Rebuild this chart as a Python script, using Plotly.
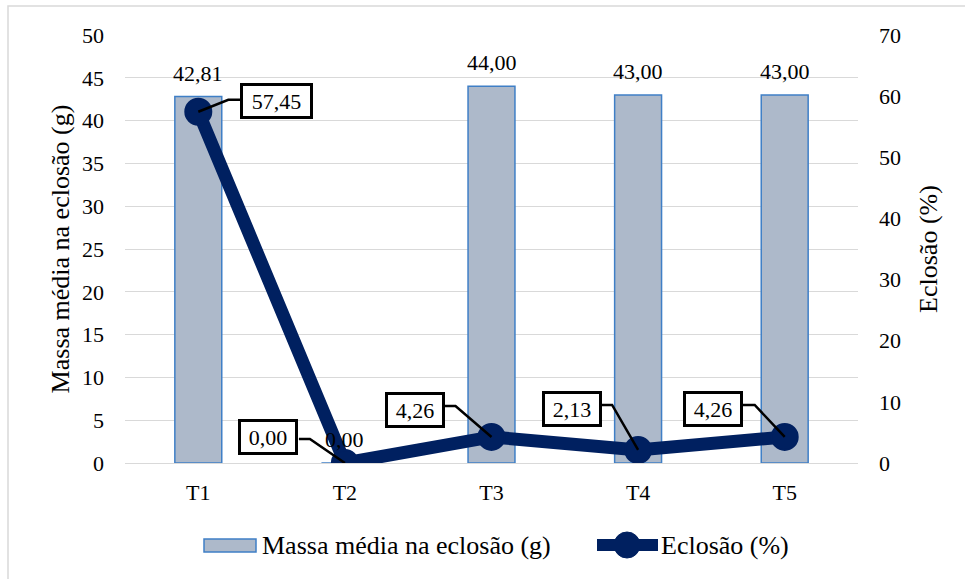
import plotly.graph_objects as go

# Data
categories = ["T1", "T2", "T3", "T4", "T5"]
massa = [42.81, 0.00, 44.00, 43.00, 43.00]          # Massa média na eclosão (g)
eclosao = [57.45, 0.00, 4.26, 2.13, 4.26]           # Eclosão (%)
bar_name = "Massa média na eclosão (g)"
line_name = "Eclosão (%)"

# Callout placement for the line labels, in pixels relative to each point
# (box centre dx, dy) and leader elbow (dx, dy); y positive is up.
callout_box = [(78, 11), (-77, 26), (-77, 27), (-66, 41), (-72, 28)]
callout_elbow = [(30, 12), (-35, 24), (-36, 31), (-26, 45), (-30, 32)]
callout_edge = [(42, 12), (-46, 24), (-48, 31), (-37, 45), (-43, 32)]

FONT = "Times New Roman, Liberation Serif, DejaVu Serif, serif"
BAR_FILL = "#adb9ca"
BAR_EDGE = "#3f7fc6"
LINE_COL = "#002060"
GRID = "#d9d9d9"

W, H = 965, 579
L, R, T, B = 125, 107, 35, 116
PW, PH = W - L - R, H - T - B


def xp(px):
    return (px - L) / PW


def yp(py):
    return (T + PH - py) / PH


def fmt(v):
    return f"{v:.2f}".replace(".", ",")


fig = go.Figure()

fig.add_trace(go.Bar(
    x=categories, y=massa, name=bar_name, yaxis="y",
    width=0.32,
    marker=dict(color=BAR_FILL, line=dict(color=BAR_EDGE, width=1.5)),
    showlegend=False,
))

fig.add_trace(go.Scatter(
    x=categories, y=eclosao, name=line_name, yaxis="y2",
    mode="lines+markers",
    line=dict(color=LINE_COL, width=13),
    marker=dict(size=26, color=LINE_COL, line=dict(color=LINE_COL, width=2)),
    showlegend=False,
))

annotations = []
shapes = []

# Value labels above the bars
for c, v in zip(categories, massa):
    annotations.append(dict(
        x=c, y=v, xref="x", yref="y", text=fmt(v), showarrow=False,
        xanchor="center", yanchor="bottom", yshift=9,
        font=dict(family=FONT, size=22, color="#000000"),
    ))

# Boxed callouts with elbow leaders for the hatch-rate line
for c, v, (bx, by), (ex, ey), (gx, gy) in zip(categories, eclosao, callout_box,
                                               callout_elbow, callout_edge):
    shapes.append(dict(
        type="path", xref="x", yref="y2",
        xsizemode="pixel", ysizemode="pixel", xanchor=c, yanchor=v,
        path=f"M0,0 L{ex},{ey} L{gx},{gy}",
        line=dict(color="#000000", width=2.5), layer="above",
    ))
    txt = fmt(v)
    annotations.append(dict(
        x=c, y=v, xref="x", yref="y2", text=txt, showarrow=False,
        xanchor="center", yanchor="middle", xshift=bx, yshift=by,
        width=13 * len(txt) - 2, height=26, borderpad=2, borderwidth=3,
        bordercolor="#000000", bgcolor="#ffffff",
        font=dict(family=FONT, size=22, color="#000000"),
    ))

# Legend drawn below the plot
shapes.append(dict(type="rect", xref="paper", yref="paper",
                   x0=xp(204), x1=xp(256), y0=yp(552), y1=yp(539),
                   fillcolor=BAR_FILL, line=dict(color=BAR_EDGE, width=1.5)))
shapes.append(dict(type="line", xref="paper", yref="paper",
                   x0=xp(597), x1=xp(658), y0=yp(545), y1=yp(545),
                   line=dict(color=LINE_COL, width=12)))
shapes.append(dict(type="circle", xref="paper", yref="paper",
                   x0=xp(614), x1=xp(640), y0=yp(558), y1=yp(532),
                   fillcolor=LINE_COL, line=dict(color=LINE_COL, width=1)))
annotations.append(dict(x=xp(260), y=yp(545), xref="paper", yref="paper",
                        text=bar_name, showarrow=False, xanchor="left", yanchor="middle",
                        font=dict(family=FONT, size=26, color="#000000")))
annotations.append(dict(x=xp(659), y=yp(545), xref="paper", yref="paper",
                        text=line_name, showarrow=False, xanchor="left", yanchor="middle",
                        font=dict(family=FONT, size=26, color="#000000")))

# Chart-area border
shapes.append(dict(type="rect", xref="paper", yref="paper",
                   x0=xp(8), x1=xp(975), y0=yp(590), y1=yp(6),
                   line=dict(color=GRID, width=1.5), layer="below"))

tick_font = dict(family=FONT, size=22, color="#000000")
title_font = dict(family=FONT, size=26, color="#000000")

fig.update_layout(
    width=W, height=H,
    margin=dict(l=L, r=R, t=T, b=B, autoexpand=False),
    paper_bgcolor="#ffffff", plot_bgcolor="#ffffff",
    font=dict(family=FONT),
    showlegend=False,
    xaxis=dict(
        type="category", range=[-0.5, 4.5],
        showgrid=False, showline=False, zeroline=False,
        ticks="", tickfont=tick_font, ticklabelstandoff=14,
    ),
    yaxis=dict(
        range=[0, 50], dtick=5, tick0=0,
        showgrid=True, gridcolor=GRID, gridwidth=1,
        zeroline=True, zerolinecolor=GRID, zerolinewidth=1,
        showline=False, ticks="", tickfont=tick_font, ticklabelstandoff=20,
        title=dict(text=bar_name, font=title_font, standoff=4),
    ),
    yaxis2=dict(
        range=[0, 70], dtick=10, tick0=0,
        overlaying="y", side="right",
        showgrid=False, zeroline=False, showline=False,
        ticks="", tickfont=tick_font, ticklabelstandoff=20,
        title=dict(text=line_name, font=title_font, standoff=18),
    ),
    annotations=annotations,
    shapes=shapes,
)

fig.write_html("out.html")
